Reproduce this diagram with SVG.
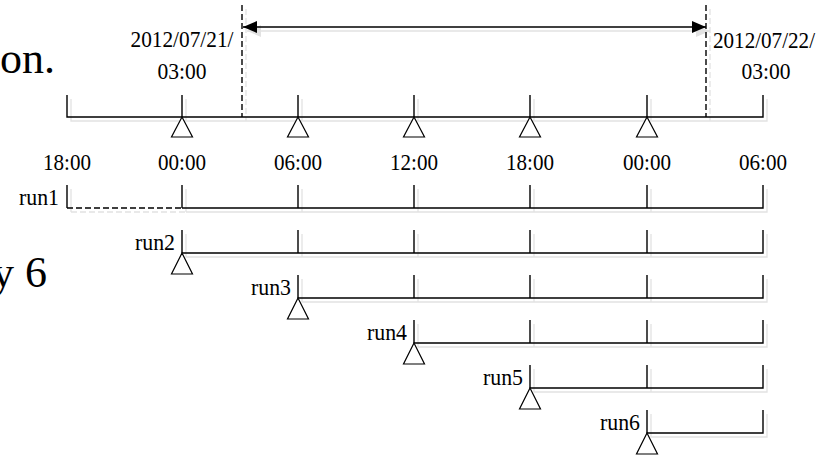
<svg xmlns="http://www.w3.org/2000/svg" width="823" height="456" viewBox="0 0 823 456">
<style>
  .ln{fill:none;stroke:#000;stroke-width:1.4}
  .sh{fill:none;stroke:#e2e2e2;stroke-width:1.3}
  .dash{stroke-dasharray:6,3}
  .tri{fill:#fff;stroke:#000;stroke-width:1.2}
  .t{font-family:"Liberation Serif","Times New Roman",serif;font-size:23px;fill:#000}
  .c{text-anchor:middle}
  .e{text-anchor:end}
  .big{font-family:"Liberation Serif","Times New Roman",serif;font-size:44px;fill:#000}
</style>
<defs>
  <marker id="ah" viewBox="0 0 14 12" refX="14" refY="6" markerWidth="14" markerHeight="12" markerUnits="userSpaceOnUse" orient="auto-start-reverse">
    <path d="M0,0 L14,6 L0,12 Z" fill="#000"/>
  </marker>
  <marker id="ahs" viewBox="0 0 14 12" refX="14" refY="6" markerWidth="14" markerHeight="12" markerUnits="userSpaceOnUse" orient="auto-start-reverse">
    <path d="M0,0 L14,6 L0,12 Z" fill="#e2e2e2"/>
  </marker>
</defs>
<rect width="823" height="456" fill="#fff"/>

<text class="big" x="0" y="73">on.</text>
<text class="big" x="-8" y="287">y 6</text>

<g id="connectors">
  <path class="sh dash" d="M246,9 V121 M710,9 V121"/>
  <path class="sh" d="M247,31 H710" marker-start="url(#ahs)" marker-end="url(#ahs)"/>
  <path class="ln dash" d="M242,5 V117 M706,5 V117"/>
  <path class="ln" d="M243,27 H706" marker-start="url(#ah)" marker-end="url(#ah)"/>
</g>

<g id="axis">
  <path class="sh" d="M71,99 V121 H767 V99 M186,99 V121 M302,99 V121 M418,99 V121 M534,99 V121 M651,99 V121"/>
  <path class="ln" d="M67,95 V117 H763 V95 M182,95 V117 M298,95 V117 M414,95 V117 M530,95 V117 M647,95 V117"/>
  <polygon class="tri" points="182,117 171.5,137 192.5,137"/>
  <polygon class="tri" points="298,117 287.5,137 308.5,137"/>
  <polygon class="tri" points="414,117 403.5,137 424.5,137"/>
  <polygon class="tri" points="530,117 519.5,137 540.5,137"/>
  <polygon class="tri" points="647,117 636.5,137 657.5,137"/>
  <text class="t c" x="182" y="47" textLength="103" lengthAdjust="spacingAndGlyphs">2012/07/21/</text>
  <text class="t c" x="182" y="79" textLength="49" lengthAdjust="spacingAndGlyphs">03:00</text>
  <text class="t c" x="764" y="48" textLength="102" lengthAdjust="spacingAndGlyphs">2012/07/22/</text>
  <text class="t c" x="766" y="79" textLength="49" lengthAdjust="spacingAndGlyphs">03:00</text>
  <text class="t c" x="67" y="170" textLength="48" lengthAdjust="spacingAndGlyphs">18:00</text>
  <text class="t c" x="182" y="170" textLength="48" lengthAdjust="spacingAndGlyphs">00:00</text>
  <text class="t c" x="298" y="170" textLength="48" lengthAdjust="spacingAndGlyphs">06:00</text>
  <text class="t c" x="414" y="170" textLength="48" lengthAdjust="spacingAndGlyphs">12:00</text>
  <text class="t c" x="530" y="170" textLength="48" lengthAdjust="spacingAndGlyphs">18:00</text>
  <text class="t c" x="647" y="170" textLength="48" lengthAdjust="spacingAndGlyphs">00:00</text>
  <text class="t c" x="763" y="170" textLength="48" lengthAdjust="spacingAndGlyphs">06:00</text>
</g>

<g id="run1">
  <path class="sh dash" d="M71,212 H186"/>
  <path class="sh" d="M71,189 V212 M186,212 H767 V189 M186,189 V212 M302,189 V212 M418,189 V212 M534,189 V212 M651,189 V212"/>
  <path class="ln dash" d="M67,208 H182"/>
  <path class="ln" d="M67,185 V208 M182,208 H763 V185 M182,185 V208 M298,185 V208 M414,185 V208 M530,185 V208 M647,185 V208"/>
  <text class="t e" x="59" y="205" textLength="40" lengthAdjust="spacingAndGlyphs">run1</text>
</g>

<g id="run2">
  <path class="sh" d="M186,234 V257 H767 V234 M302,234 V257 M418,234 V257 M534,234 V257 M651,234 V257"/>
  <path class="ln" d="M182,230 V253 H763 V230 M298,230 V253 M414,230 V253 M530,230 V253 M647,230 V253"/>
  <polygon class="tri" points="182,253 171.5,274 192.5,274"/>
  <text class="t e" x="175" y="250" textLength="40" lengthAdjust="spacingAndGlyphs">run2</text>
</g>

<g id="run3">
  <path class="sh" d="M302,279 V302 H767 V279 M418,279 V302 M534,279 V302 M651,279 V302"/>
  <path class="ln" d="M298,275 V298 H763 V275 M414,275 V298 M530,275 V298 M647,275 V298"/>
  <polygon class="tri" points="298,298 287.5,319 308.5,319"/>
  <text class="t e" x="291" y="295" textLength="40" lengthAdjust="spacingAndGlyphs">run3</text>
</g>

<g id="run4">
  <path class="sh" d="M418,324 V347 H767 V324 M534,324 V347 M651,324 V347"/>
  <path class="ln" d="M414,320 V343 H763 V320 M530,320 V343 M647,320 V343"/>
  <polygon class="tri" points="414,343 403.5,364 424.5,364"/>
  <text class="t e" x="407" y="340" textLength="40" lengthAdjust="spacingAndGlyphs">run4</text>
</g>

<g id="run5">
  <path class="sh" d="M534,369 V392 H767 V369 M651,369 V392"/>
  <path class="ln" d="M530,365 V388 H763 V365 M647,365 V388"/>
  <polygon class="tri" points="530,388 519.5,409 540.5,409"/>
  <text class="t e" x="523" y="385" textLength="40" lengthAdjust="spacingAndGlyphs">run5</text>
</g>

<g id="run6">
  <path class="sh" d="M651,414 V437 H767 V414"/>
  <path class="ln" d="M647,410 V433 H763 V410"/>
  <polygon class="tri" points="647,433 636.5,454 657.5,454"/>
  <text class="t e" x="640" y="430" textLength="40" lengthAdjust="spacingAndGlyphs">run6</text>
</g>
</svg>
